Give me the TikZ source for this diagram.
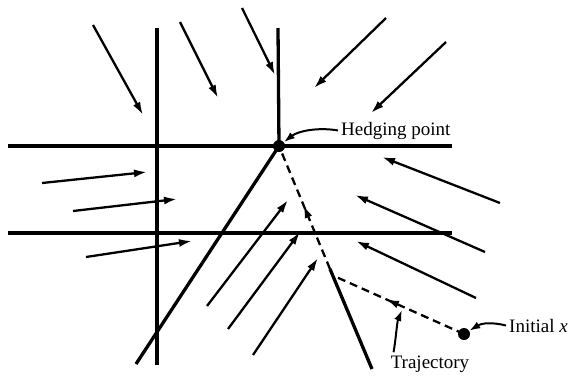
\documentclass[tikz,border=0pt]{standalone}
\usepackage{fontspec}
\setmainfont{Liberation Serif}
\usetikzlibrary{arrows.meta,decorations.markings}
\begin{document}
\begin{tikzpicture}[x=1pt,y=-1pt,
  bound/.style={line width=3.3pt},
  flow/.style={line width=2.3pt,-{Latex[length=13pt,width=8pt]}},
  traj/.style={line width=2.3pt,dash pattern=on 8pt off 5pt},
  lbl/.style={font=\fontsize{19}{22}\selectfont, inner sep=0pt},
  pointer/.style={line width=2pt,-{Latex[length=11pt,width=7.5pt]}},
  dot/.style={circle,fill=black,inner sep=0pt,minimum size=12pt}]
\useasboundingbox (0,0) rectangle (568,376);

% special points
\node[dot] (H) at (279,146) {};
\node[dot] (I) at (464,334) {};
\coordinate (J) at (330,269);
\coordinate (K) at (334,276);

% switching lines
\draw[bound] (8,146) -- (452,146);
\draw[bound] (8,233) -- (452,233);
\draw[bound] (157,28) -- (157,365);
\draw[bound] (278,28) -- (H.center);
\draw[bound] (H.center) -- (136,364);
\draw[bound] (J) -- (372,369);

% trajectory
\draw[traj, postaction={decorate},
  decoration={markings, mark=at position 0.52 with {\arrow{Latex[length=13pt,width=8pt]}}}]
  (J) -- (H.center);
\draw[traj, postaction={decorate},
  decoration={markings, mark=at position 0.6 with {\arrow{Latex[length=13pt,width=8pt]}}}]
  (I.center) -- (K);

% vector field
\draw[flow] (93,25) -- (143,115);
\draw[flow] (180,22) -- (218,98);
\draw[flow] (242,8) -- (275,75);
\draw[flow] (386,18) -- (314,88);
\draw[flow] (446,42) -- (371,113);
\draw[flow] (42,183) -- (147,172);
\draw[flow] (73,211) -- (177,199);
\draw[flow] (86,257) -- (192,241);
\draw[flow] (500,203) -- (382,157);
\draw[flow] (485,252) -- (355,195);
\draw[flow] (476,298) -- (356,241);
\draw[flow] (207,306) -- (288,200);
\draw[flow] (228,329) -- (300,232);
\draw[flow] (253,355) -- (318,258);

% labels
\node[lbl, anchor=base west] (hl) at (341,135) {Hedging point};
\draw[pointer] ([xshift=-3pt]hl.west) .. controls (318,127) and (298,131) .. (H);
\node[lbl, anchor=base west] (il) at (509,332) {Initial \textit{x}};
\draw[pointer] ([xshift=-3pt]il.west) .. controls (492,322) and (482,323) .. (I);
\node[lbl, anchor=base] (tl) at (430,368) {Trajectory};
\coordinate (tp) at (402,310);
\draw[pointer] ([xshift=3pt,yshift=3pt]tl.north west) .. controls (396,338) and (397,322) .. (tp);
\end{tikzpicture}
\end{document}
